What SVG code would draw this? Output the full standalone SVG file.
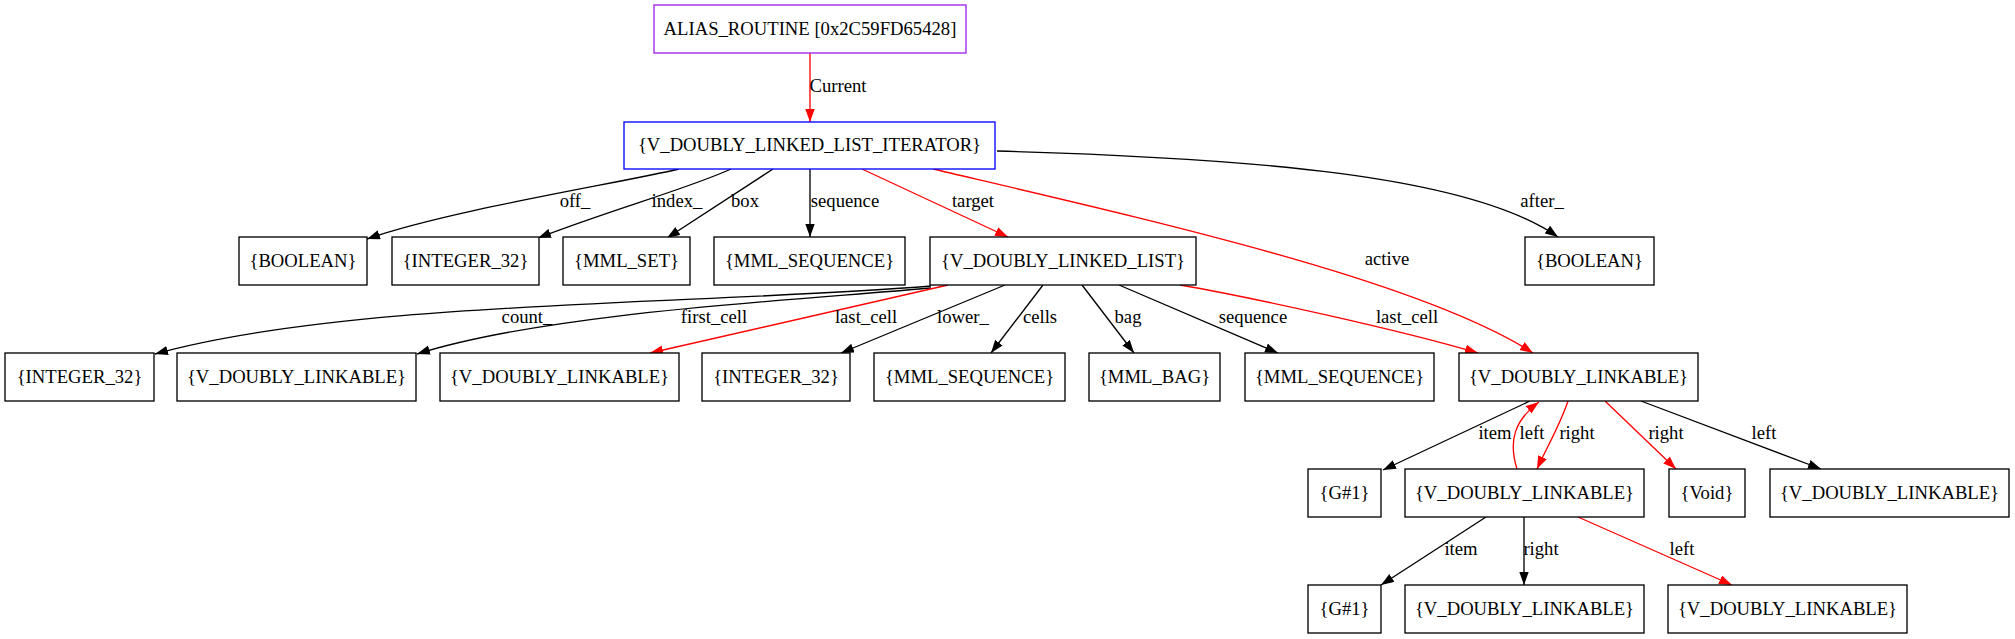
<svg xmlns="http://www.w3.org/2000/svg" width="2015" height="639" viewBox="0 0 2015 639">
<style>
text{font-family:"Liberation Serif","Times New Roman",serif;font-size:18.67px;text-anchor:middle;fill:#000}
.n rect{fill:#fff;stroke:#000;stroke-width:1.33}
.e path{fill:none;stroke-width:1.33}
.k{stroke:#000}
.r{stroke:#ff0000}
</style>
<defs>
<marker id="ak" markerUnits="userSpaceOnUse" markerWidth="14" markerHeight="10" refX="13" refY="4.7" orient="auto"><path d="M0,0 L13,4.7 L0,9.4 z" fill="#000"/></marker>
<marker id="ar" markerUnits="userSpaceOnUse" markerWidth="14" markerHeight="10" refX="13" refY="4.7" orient="auto"><path d="M0,0 L13,4.7 L0,9.4 z" fill="#ff0000"/></marker>
</defs>
<rect width="2015" height="639" fill="#fff"/>
<g id="edges" class="e">
<path class="r" marker-end="url(#ar)" d="M810,53 L810,122"/>
<path class="k" marker-end="url(#ak)" d="M679,169 C620,183 450,210 367,239"/>
<path class="k" marker-end="url(#ak)" d="M731,169 C690,188 610,210 538,238"/>
<path class="k" marker-end="url(#ak)" d="M773,169 L667,238"/>
<path class="k" marker-end="url(#ak)" d="M810,169 L810,237"/>
<path class="r" marker-end="url(#ar)" d="M862,169 L1008,237"/>
<path class="r" marker-end="url(#ar)" d="M933,169 C1150,220 1420,280 1533,353"/>
<path class="k" marker-end="url(#ak)" d="M997,151 C1250,158 1470,175 1558,237"/>
<path class="k" marker-end="url(#ak)" d="M931,286 C700,305 350,300 155,354"/>
<path class="k" marker-end="url(#ak)" d="M931,288 C800,300 550,312 417,354"/>
<path class="r" marker-end="url(#ar)" d="M948,285 L650,353"/>
<path class="k" marker-end="url(#ak)" d="M1005,285 L841,353"/>
<path class="k" marker-end="url(#ak)" d="M1043,285 L991,353"/>
<path class="k" marker-end="url(#ak)" d="M1082,285 L1134,353"/>
<path class="k" marker-end="url(#ak)" d="M1119,285 L1278,353"/>
<path class="r" marker-end="url(#ar)" d="M1180,285 C1250,297 1400,330 1478,353"/>
<path class="k" marker-end="url(#ak)" d="M1530,401 L1383,470"/>
<path class="r" marker-end="url(#ar)" d="M1517,469 C1508,440 1515,420 1539,402"/>
<path class="r" marker-end="url(#ar)" d="M1568,401 C1560,425 1548,445 1537,469"/>
<path class="r" marker-end="url(#ar)" d="M1605,401 L1676,469"/>
<path class="k" marker-end="url(#ak)" d="M1641,401 L1821,469"/>
<path class="k" marker-end="url(#ak)" d="M1486,517 L1381,585"/>
<path class="k" marker-end="url(#ak)" d="M1524,517 L1524,585"/>
<path class="r" marker-end="url(#ar)" d="M1578,517 L1732,585"/>
<text x="838" y="92">Current</text>
<text x="575" y="207">off_</text>
<text x="677" y="207">index_</text>
<text x="745" y="207">box</text>
<text x="845" y="207">sequence</text>
<text x="973" y="207">target</text>
<text x="1387" y="265">active</text>
<text x="1542" y="207">after_</text>
<text x="527" y="323">count_</text>
<text x="714" y="323">first_cell</text>
<text x="866" y="323">last_cell</text>
<text x="963" y="323">lower_</text>
<text x="1040" y="323">cells</text>
<text x="1128" y="323">bag</text>
<text x="1253" y="323">sequence</text>
<text x="1407" y="323">last_cell</text>
<text x="1495" y="439">item</text>
<text x="1532" y="439">left</text>
<text x="1577" y="439">right</text>
<text x="1666" y="439">right</text>
<text x="1764" y="439">left</text>
<text x="1461" y="555">item</text>
<text x="1541" y="555">right</text>
<text x="1682" y="555">left</text>
</g>
<g id="n0" class="n"><rect x="654" y="5" width="312" height="48" style="stroke:#a020f0"/><text x="810" y="35">ALIAS_ROUTINE [0x2C59FD65428]</text></g>
<g id="n1" class="n"><rect x="624" y="122" width="371" height="47" style="stroke:#0000ff"/><text x="809.5" y="151">{V_DOUBLY_LINKED_LIST_ITERATOR}</text></g>
<g id="n2" class="n"><rect x="239" y="237" width="128" height="48"/><text x="303" y="267">{BOOLEAN}</text></g>
<g id="n3" class="n"><rect x="392" y="237" width="147" height="48"/><text x="465.5" y="267">{INTEGER_32}</text></g>
<g id="n4" class="n"><rect x="563" y="237" width="127" height="48"/><text x="626.5" y="267">{MML_SET}</text></g>
<g id="n5" class="n"><rect x="714" y="237" width="191" height="48"/><text x="809.5" y="267">{MML_SEQUENCE}</text></g>
<g id="n6" class="n"><rect x="930" y="237" width="266" height="48"/><text x="1063" y="267">{V_DOUBLY_LINKED_LIST}</text></g>
<g id="n7" class="n"><rect x="1525" y="237" width="129" height="48"/><text x="1589.5" y="267">{BOOLEAN}</text></g>
<g id="n8" class="n"><rect x="5" y="353" width="149" height="48"/><text x="79.5" y="383">{INTEGER_32}</text></g>
<g id="n9" class="n"><rect x="177" y="353" width="239" height="48"/><text x="296.5" y="383">{V_DOUBLY_LINKABLE}</text></g>
<g id="n10" class="n"><rect x="440" y="353" width="239" height="48"/><text x="559.5" y="383">{V_DOUBLY_LINKABLE}</text></g>
<g id="n11" class="n"><rect x="702" y="353" width="148" height="48"/><text x="776" y="383">{INTEGER_32}</text></g>
<g id="n12" class="n"><rect x="874" y="353" width="191" height="48"/><text x="969.5" y="383">{MML_SEQUENCE}</text></g>
<g id="n13" class="n"><rect x="1089" y="353" width="131" height="48"/><text x="1154.5" y="383">{MML_BAG}</text></g>
<g id="n14" class="n"><rect x="1245" y="353" width="189" height="48"/><text x="1339.5" y="383">{MML_SEQUENCE}</text></g>
<g id="n15" class="n"><rect x="1459" y="353" width="239" height="48"/><text x="1578.5" y="383">{V_DOUBLY_LINKABLE}</text></g>
<g id="n16" class="n"><rect x="1308" y="469" width="73" height="48"/><text x="1344.5" y="499">{G#1}</text></g>
<g id="n17" class="n"><rect x="1405" y="469" width="239" height="48"/><text x="1524.5" y="499">{V_DOUBLY_LINKABLE}</text></g>
<g id="n18" class="n"><rect x="1669" y="469" width="76" height="48"/><text x="1707" y="499">{Void}</text></g>
<g id="n19" class="n"><rect x="1770" y="469" width="239" height="48"/><text x="1889.5" y="499">{V_DOUBLY_LINKABLE}</text></g>
<g id="n20" class="n"><rect x="1308" y="585" width="73" height="48"/><text x="1344.5" y="615">{G#1}</text></g>
<g id="n21" class="n"><rect x="1405" y="585" width="239" height="48"/><text x="1524.5" y="615">{V_DOUBLY_LINKABLE}</text></g>
<g id="n22" class="n"><rect x="1668" y="585" width="239" height="48"/><text x="1787.5" y="615">{V_DOUBLY_LINKABLE}</text></g>
</svg>
